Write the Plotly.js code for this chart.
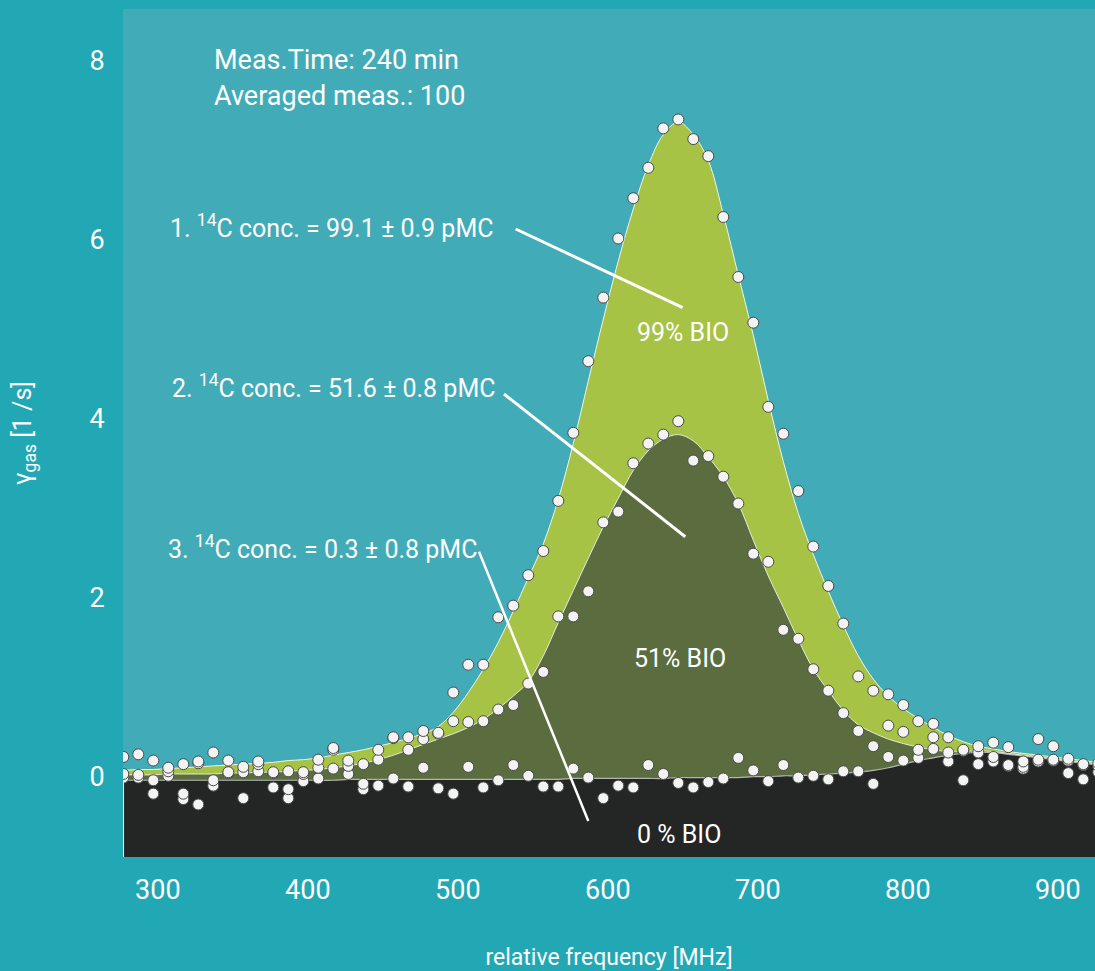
<!DOCTYPE html>
<html>
<head>
<meta charset="utf-8">
<script src="https://cdn.plot.ly/plotly-3.0.1.min.js"></script>
<style>
  html, body { margin: 0; padding: 0; background: #22a7b5; }
  #chart { width: 1095px; height: 971px; }
</style>
</head>
<body>
<div id="chart"></div>
<script>
// ---- data (relative frequency in MHz, gamma_gas in 1/s) ----
const freq = [277,287,297,307,317,327,337,347,357,367,377,387,397,407,417,427,437,447,457,467,477,487,497,507,517,527,537,547,557,567,577,587,597,607,617,627,637,647,657,667,677,687,697,707,717,727,737,747,757,767,777,787,797,807,817,827,837,847,857,867,877,887,897,907,917,927];

// fitted curves
const fit99 = [0.07,0.08,0.08,0.09,0.10,0.11,0.12,0.13,0.14,0.15,0.16,0.18,0.19,0.21,0.24,0.27,0.30,0.34,0.38,0.43,0.48,0.56,0.72,0.94,1.20,1.50,1.85,2.22,2.60,3.10,3.72,4.42,5.11,5.76,6.34,6.83,7.17,7.31,7.17,6.88,6.28,5.60,4.93,4.20,3.52,2.94,2.48,2.07,1.69,1.35,1.09,0.90,0.76,0.65,0.55,0.46,0.39,0.34,0.31,0.28,0.26,0.24,0.22,0.20,0.18,0.16];
const fit51 = [0.02,0.02,0.02,0.03,0.03,0.03,0.03,0.04,0.04,0.05,0.05,0.06,0.07,0.08,0.10,0.12,0.15,0.19,0.24,0.30,0.36,0.42,0.48,0.55,0.64,0.76,0.90,1.06,1.35,1.72,2.08,2.44,2.79,3.11,3.42,3.64,3.77,3.82,3.75,3.57,3.35,3.05,2.64,2.24,1.89,1.53,1.20,0.96,0.74,0.58,0.49,0.42,0.37,0.33,0.30,0.28,0.28,0.29,0.28,0.26,0.24,0.22,0.20,0.18,0.16,0.14];
const fit0 = [-0.04,-0.04,-0.04,-0.04,-0.04,-0.04,-0.04,-0.04,-0.04,-0.04,-0.04,-0.04,-0.04,-0.04,-0.04,-0.03,-0.03,-0.03,-0.03,-0.03,-0.03,-0.03,-0.03,-0.03,-0.03,-0.03,-0.03,-0.03,-0.03,-0.03,-0.02,-0.02,-0.02,-0.02,-0.02,-0.02,-0.02,-0.01,-0.01,-0.01,-0.01,-0.01,0.00,0.00,0.01,0.01,0.02,0.03,0.04,0.05,0.07,0.10,0.14,0.18,0.21,0.24,0.26,0.27,0.27,0.25,0.23,0.21,0.19,0.17,0.15,0.13];

// measured points
const pts99 = [0.22,0.25,0.18,0.10,0.14,0.17,0.27,0.18,0.11,0.17,0.05,0.06,0.05,0.19,0.32,0.18,0.14,0.30,0.44,0.44,0.51,0.49,0.94,1.25,1.25,1.78,1.91,2.25,2.52,3.08,3.84,4.64,5.35,6.01,6.46,6.80,7.24,7.34,7.12,6.93,6.25,5.58,5.07,4.13,3.83,3.19,2.57,2.13,1.71,1.12,0.96,0.92,0.80,0.62,0.59,0.44,0.30,0.34,0.38,0.33,0.17,0.42,0.34,0.20,0.14,0.15];
const pts51 = [0.03,0.02,-0.04,0.06,-0.19,0.15,-0.04,0.05,0.05,0.14,0.04,-0.14,0.03,0.10,0.30,0.12,-0.08,0.19,0.43,0.30,0.42,0.48,0.62,0.61,0.62,0.75,0.80,1.04,1.17,1.79,1.79,2.07,2.84,2.96,3.50,3.72,3.82,3.97,3.53,3.58,3.35,3.05,2.49,2.40,1.64,1.54,1.20,0.96,0.71,0.51,0.34,0.57,0.50,0.30,0.44,0.27,0.29,0.27,0.22,0.13,0.11,0.19,0.19,0.18,0.13,0.12];
const pts0 = [-0.01,-0.01,-0.19,0.01,-0.25,-0.31,-0.10,0.04,-0.24,0.06,-0.12,-0.24,-0.05,-0.02,0.09,0.03,-0.14,-0.10,-0.02,-0.11,0.10,-0.13,-0.19,0.11,-0.12,-0.04,0.13,0.01,-0.11,-0.11,0.09,-0.01,-0.24,-0.10,-0.12,0.13,0.03,-0.07,-0.12,-0.06,-0.02,0.21,0.07,-0.05,0.13,-0.01,0.01,-0.03,0.06,0.06,-0.08,0.22,0.18,0.21,0.31,0.17,-0.04,0.14,0.17,0.12,0.09,0.17,0.18,0.04,-0.03,0.05];

const xTicks = [300,400,500,600,700,800,900];
const yTicks = [0,2,4,6,8];
const xRange = [276.8, 924.8];
const yRange = [-0.897, 8.573];

// ---- styling ----
const FONT = 'Roboto, "Open Sans", "DejaVu Sans", sans-serif';
const W = 1095, H = 971;
const M = {l:123, r:0, t:9, b:114};
const PW = W - M.l - M.r, PH = H - M.t - M.b;
const px = x => (x - M.l) / PW;        // pixel -> paper x
const py = y => (H - M.b - y) / PH;    // pixel -> paper y

const base = fit0.map(() => yRange[0] - 2);

const traces = [
  {x: freq, y: base, mode: 'lines', line: {width: 0}, hoverinfo: 'skip'},
  {x: freq, y: fit0, mode: 'lines', fill: 'tonexty', fillcolor: '#242626',
   line: {color: '#b4b4b0', width: 1.2, shape: 'spline'}, hoverinfo: 'skip'},
  {x: freq, y: fit51, mode: 'lines', fill: 'tonexty', fillcolor: '#5b6c3f',
   line: {color: '#e6e8dc', width: 1, shape: 'spline'}, hoverinfo: 'skip'},
  {x: freq, y: fit99, mode: 'lines', fill: 'tonexty', fillcolor: '#a6c345',
   line: {color: '#f2f5e6', width: 1, shape: 'spline'}, hoverinfo: 'skip'}
];
const mk = {size: 11, color: '#f3f3f3', line: {color: '#4a4a4a', width: 1}};
[pts0, pts51, pts99].forEach(p => {
  traces.push({x: freq, y: p, mode: 'markers', marker: mk});
});

const ann = (text, x, y, anchor, size) => ({
  text: text, xref: 'paper', yref: 'paper', x: px(x), y: py(y),
  xanchor: anchor, yanchor: 'middle', showarrow: false,
  font: {family: FONT, size: size, color: '#ffffff'}
});

const line = (x0, y0, x1, y1, w) => ({
  type: 'line', xref: 'paper', yref: 'paper',
  x0: px(x0), y0: py(y0), x1: px(x1), y1: py(y1),
  line: {color: '#ffffff', width: w}
});

const layout = {
  width: W, height: H,
  margin: {l: M.l, r: M.r, t: M.t, b: M.b, pad: 0},
  paper_bgcolor: '#22a7b5',
  plot_bgcolor: '#42abb8',
  showlegend: false,
  font: {family: FONT, color: '#ffffff'},
  xaxis: {
    range: xRange, tickvals: xTicks, ticktext: xTicks.map(String),
    ticks: 'outside', ticklen: 9, tickcolor: 'rgba(0,0,0,0)',
    tickfont: {size: 27, color: '#ffffff', family: FONT},
    showgrid: false, zeroline: false, showline: false,
    title: {text: 'relative frequency [MHz]', font: {size: 23, color: '#ffffff', family: FONT}, standoff: 48}
  },
  yaxis: {
    range: yRange, tickvals: yTicks, ticktext: yTicks.map(String),
    ticks: 'outside', ticklen: 12, tickcolor: 'rgba(0,0,0,0)',
    tickfont: {size: 27, color: '#ffffff', family: FONT},
    showgrid: false, zeroline: false, showline: false,
    title: {text: 'γ<sub>gas</sub> [1 /s]', font: {size: 25, color: '#ffffff', family: FONT}, standoff: 50}
  },
  annotations: [
    ann('Meas.Time: 240 min', 212, 60, 'left', 27),
    ann('Averaged meas.: 100', 212, 96, 'left', 27),
    ann('1. <sup>14</sup>C conc. = 99.1 ± 0.9 pMC', 168, 226, 'left', 25),
    ann('2. <sup>14</sup>C conc. = 51.6 ± 0.8 pMC', 170, 386, 'left', 25),
    ann('3. <sup>14</sup>C conc. = 0.3 ± 0.8 pMC', 166, 547, 'left', 25),
    ann('99% BIO', 683, 332, 'center', 25),
    ann('51% BIO', 680, 658, 'center', 25),
    ann('0 % BIO', 679, 834, 'center', 25)
  ],
  shapes: [
    {type: 'line', xref: 'x', yref: 'y', x0: freq[0], x1: freq[0], y0: yRange[0], y1: fit0[0],
     line: {color: '#ffffff', width: 1.5}},
    line(515.7, 229, 682.7, 307.7, 3),
    line(504, 394, 685.3, 536.7, 3),
    line(479, 551.7, 588.3, 821, 2.5)
  ]
};

Plotly.newPlot('chart', traces, layout, {displayModeBar: false, staticPlot: true});
</script>
</body>
</html>
